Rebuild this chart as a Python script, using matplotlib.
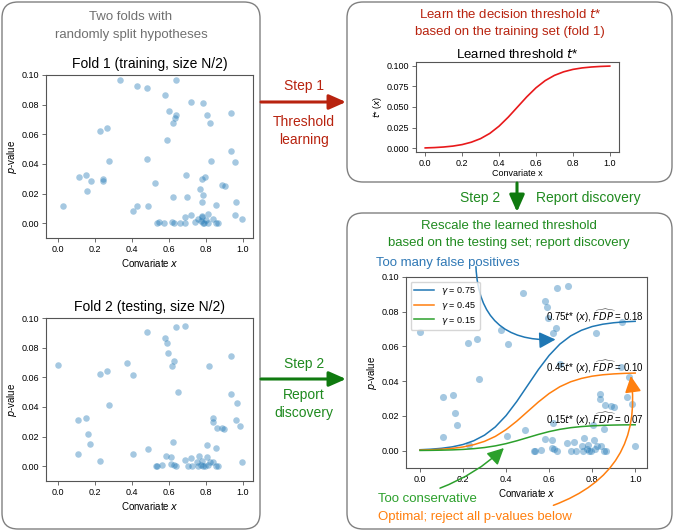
import matplotlib.pyplot as plt
from matplotlib.patches import FancyBboxPatch, FancyArrowPatch
import numpy as np

plt.rcParams['font.family'] = ['Liberation Sans', 'DejaVu Sans']
plt.rcParams['mathtext.fontset'] = 'dejavusans'

# fold 1 (training) p-values vs covariate
fold1_x = [0.335, 0.426, 0.480, 0.640, 0.580, 0.717, 0.783, 0.598, 0.638, 0.632,
           0.808, 0.938, 0.620, 0.821, 0.225, 0.263, 0.592, 0.935, 0.955, 0.275,
           0.480, 0.830, 0.114, 0.154, 0.176, 0.243, 0.243, 0.159, 0.694, 0.779,
           0.797, 0.525, 0.888, 0.902, 0.770, 0.784, 0.620, 0.699, 0.781, 0.857,
           0.964, 0.027, 0.429, 0.489, 0.406, 0.955, 0.998,
           0.534, 0.547, 0.576, 0.618, 0.629, 0.658, 0.685, 0.685, 0.717, 0.739,
           0.755, 0.775, 0.781, 0.783, 0.790, 0.800, 0.810, 0.810, 0.840, 0.855,
           0.864, 0.780]
fold1_p = [0.0966, 0.0926, 0.0910, 0.0966, 0.0865, 0.0820, 0.0813, 0.0760, 0.0730, 0.0710,
           0.0727, 0.0745, 0.0676, 0.0678, 0.0624, 0.0642, 0.0559, 0.0486, 0.0410, 0.0417,
           0.0430, 0.0420, 0.0309, 0.0322, 0.0288, 0.0300, 0.0282, 0.0216, 0.0324, 0.0297,
           0.0309, 0.0268, 0.0259, 0.0252, 0.0232, 0.0189, 0.0176, 0.0176, 0.0140, 0.0124,
           0.0146, 0.0115, 0.0117, 0.0119, 0.0083, 0.0056, 0.0025,
           0.0000, 0.0010, 0.0000, 0.0010, 0.0000, 0.0000, 0.0000, 0.0045, 0.0052, 0.0005,
           0.0025, 0.0016, 0.0047, 0.0000, 0.0000, 0.0020, 0.0000, 0.0060, 0.0030, 0.0000,
           0.0000, 0.0040]

# fold 2 (testing)
fold2_x = [0.000, 0.109, 0.154, 0.161, 0.174, 0.109, 0.226, 0.225, 0.263, 0.275,
           0.375, 0.408, 0.406, 0.480, 0.489, 0.580, 0.589, 0.636, 0.687, 0.596,
           0.630, 0.618, 0.819, 0.937, 0.649, 0.935, 0.971, 0.837, 0.837, 0.861,
           0.888, 0.900, 0.962, 0.987, 0.620, 0.804, 0.853, 0.583, 0.614, 0.763,
           0.808, 0.685, 0.717, 0.779, 0.839, 0.998, 0.614,
           0.531, 0.534, 0.562, 0.625, 0.636, 0.701, 0.723, 0.752, 0.759, 0.774,
           0.784, 0.793, 0.812, 0.824, 0.857, 0.864]
fold2_p = [0.0685, 0.0309, 0.0322, 0.0214, 0.0149, 0.0079, 0.0032, 0.0622, 0.0642, 0.0414,
           0.0694, 0.0615, 0.0083, 0.0908, 0.0117, 0.0863, 0.0829, 0.0937, 0.0948, 0.0761,
           0.0709, 0.0676, 0.0676, 0.0743, 0.0498, 0.0484, 0.0426, 0.0324, 0.0295, 0.0261,
           0.0257, 0.0252, 0.0309, 0.0270, 0.0162, 0.0146, 0.0124, 0.0068, 0.0063, 0.0070,
           0.0061, 0.0043, 0.0052, 0.0034, 0.0029, 0.0025, 0.0014,
           0.0000, 0.0000, 0.0005, 0.0009, 0.0000, 0.0000, 0.0000, 0.0027, 0.0000, 0.0007,
           0.0000, 0.0000, 0.0009, 0.0027, 0.0000, 0.0000]

# learned threshold t*(x)
t_x = [0.00, 0.05, 0.10, 0.15, 0.20, 0.25, 0.30, 0.35, 0.40, 0.45, 0.50,
       0.55, 0.60, 0.65, 0.70, 0.75, 0.80, 0.85, 0.90, 0.95, 1.00]
t_star = [0.0007, 0.0011, 0.0018, 0.0029, 0.0047, 0.0076, 0.0119, 0.0182, 0.0269, 0.0378, 0.0500,
          0.0622, 0.0731, 0.0818, 0.0881, 0.0924, 0.0953, 0.0971, 0.0982, 0.0989, 0.0993]

gammas = [0.75, 0.45, 0.15]
fdp_hat = ['0.18', '0.10', '0.07']
gamma_colors = ['#1f77b4', '#ff7f0e', '#2ca02c']

RED = '#b8230f'
GREEN = '#1f8a1f'
GREY = '#707070'
W, H = 675, 532

fig = plt.figure(figsize=(W / 100, H / 100), dpi=100)


def ftext(x, y, s, **kw):
    # position in pixels from top-left
    fig.text(x / W, 1 - y / H, s, ha=kw.pop('ha', 'center'), va=kw.pop('va', 'center'), **kw)


def add_axes(l, t, r, b):
    return fig.add_axes([l / W, 1 - b / H, (r - l) / W, (b - t) / H])


def style(ax):
    for s in ax.spines.values():
        s.set_color('#555555')
        s.set_linewidth(0.8)
    ax.tick_params(labelsize=6.5, length=3, width=0.6, color='#555555', pad=2)


# boxes
for x0, y0, x1, y1 in [(2, 2, 260, 529), (347, 2, 672, 182), (347, 213, 672, 529)]:
    fig.patches.append(FancyBboxPatch((x0 / 100, (H - y1) / 100), (x1 - x0) / 100, (y1 - y0) / 100,
                                      boxstyle='round,pad=0,rounding_size=0.16',
                                      transform=fig.dpi_scale_trans, fc='none',
                                      ec='#808080', lw=1.0))

ftext(131, 17, 'Two folds with', color=GREY, fontsize=9.5)
ftext(131, 35, 'randomly split hypotheses', color=GREY, fontsize=9.5)

# fold panels
for (top, bot), xs, ps, title in [((75, 238), fold1_x, fold1_p, 'Fold 1 (training, size N/2)'),
                                  ((318, 481), fold2_x, fold2_p, 'Fold 2 (testing, size N/2)')]:
    ax = add_axes(46, top, 253, bot)
    ax.scatter(xs, ps, s=22, color='#1f77b4', alpha=0.4, linewidths=0)
    ax.set_xlim(-0.065, 1.055)
    ax.set_ylim(-0.01, 0.10)
    ax.set_xticks([0, 0.2, 0.4, 0.6, 0.8, 1.0])
    ax.set_yticks([0, 0.02, 0.04, 0.06, 0.08, 0.10])
    ax.set_yticklabels(['0.00', '0.02', '0.04', '0.06', '0.08', '0.10'])
    ax.set_title(title, fontsize=10, pad=5)
    ax.set_xlabel('Convariate $x$', fontsize=7, labelpad=2)
    ax.set_ylabel('$p$-value', fontsize=7, labelpad=2)
    style(ax)

# top right: learned threshold
ftext(510, 15, 'Learn the decision threshold $t$*', color=RED, fontsize=9.5)
ftext(510, 32, 'based on the training set (fold 1)', color=RED, fontsize=9.5)
ax_t = add_axes(416, 62, 619, 152)
ax_t.plot(t_x, t_star, color='#e8191b', lw=1.2)
ax_t.set_xticks([0, 0.2, 0.4, 0.6, 0.8, 1.0])
ax_t.set_yticks([0, 0.025, 0.05, 0.075, 0.1])
ax_t.set_yticklabels(['0.000', '0.025', '0.050', '0.075', '0.100'])
ax_t.set_title('Learned threshold $t$*', fontsize=9.5, pad=3)
ax_t.set_xlabel('Convariate x', fontsize=6.5, labelpad=1)
ax_t.set_ylabel('$t$* ($x$)', fontsize=6.5, labelpad=2)
style(ax_t)

# bottom right: rescaled thresholds on testing fold
ftext(509, 226, 'Rescale the learned threshold', color=GREEN, fontsize=9.5)
ftext(509, 243, 'based on the testing set; report discovery', color=GREEN, fontsize=9.5)
ftext(376, 263, 'Too many false positives', color='#2f78b5', fontsize=9.5, ha='left')
ftext(378, 499, 'Too conservative', color='#2ca02c', fontsize=9.5, ha='left')
ftext(378, 517, 'Optimal; reject all p-values below', color='#ff7f0e', fontsize=9.5, ha='left')

ax_r = add_axes(406, 277, 647, 468)
ax_r.scatter(fold2_x, fold2_p, s=26, color='#1f77b4', alpha=0.4, linewidths=0)
t_arr = np.array(t_star)
for g, fdp, c in zip(gammas, fdp_hat, gamma_colors):
    ax_r.plot(t_x, g * t_arr, color=c, lw=1.1, label=r'$\gamma$ = %.2f' % g)
    ax_r.text(0.585, g * t_arr[-1] + 0.003, r'%.2f$t$* ($x$), $\widehat{FDP}$ = %s' % (g, fdp),
              fontsize=7, ha='left', va='center')
ax_r.set_xlim(-0.065, 1.055)
ax_r.set_ylim(-0.01, 0.10)
ax_r.set_xticks([0, 0.2, 0.4, 0.6, 0.8, 1.0])
ax_r.set_yticks([0, 0.02, 0.04, 0.06, 0.08, 0.10])
ax_r.set_yticklabels(['0.00', '0.02', '0.04', '0.06', '0.08', '0.10'])
ax_r.set_xlabel('Convariate $x$', fontsize=7, labelpad=2)
ax_r.set_ylabel('$p$-value', fontsize=7, labelpad=2)
ax_r.legend(loc='upper left', fontsize=6.5, handlelength=2.2, borderpad=0.4,
            labelspacing=0.3, frameon=True)
style(ax_r)

# curved pointer arrows
head = '-|>,head_length=1.0,head_width=0.5'
ax_r.annotate('', xy=(0.63, 0.064), xytext=(0.26, 0.106), annotation_clip=False,
              arrowprops=dict(arrowstyle=head, color='#1f77b4',
                              lw=1.1, connectionstyle='arc3,rad=0.5', shrinkA=0, shrinkB=0))
ax_r.annotate('', xy=(0.39, 0.0015), xytext=(0.093, -0.0216), annotation_clip=False,
              arrowprops=dict(arrowstyle=head, color='#2ca02c',
                              lw=1.1, connectionstyle='arc3,rad=0.1', shrinkA=0, shrinkB=0))
ax_r.annotate('', xy=(0.98, 0.043), xytext=(0.62, -0.0315), annotation_clip=False,
              arrowprops=dict(arrowstyle=head, color='#ff7f0e',
                              lw=1.1, connectionstyle='arc3,rad=0.4', shrinkA=0, shrinkB=0))


# big step arrows between boxes
def step_arrow(x0, y0, x1, y1, color):
    fig.patches.append(FancyArrowPatch(
        (x0 / W, 1 - y0 / H), (x1 / W, 1 - y1 / H), transform=fig.transFigure,
        arrowstyle='-|>,head_length=3.4,head_width=1.5', color=color, lw=2.2,
        shrinkA=0, shrinkB=0, mutation_scale=3))


step_arrow(261, 102, 346, 102, RED)
ftext(304, 86, 'Step 1', color=RED, fontsize=10)
ftext(304, 122, 'Threshold', color=RED, fontsize=10)
ftext(304, 140, 'learning', color=RED, fontsize=10)

step_arrow(261, 379, 346, 379, '#0f7a0f')
ftext(304, 364, 'Step 2', color=GREEN, fontsize=10)
ftext(304, 395, 'Report', color=GREEN, fontsize=10)
ftext(304, 413, 'discovery', color=GREEN, fontsize=10)

step_arrow(517, 183, 517, 212, '#0f7a0f')
ftext(480, 198, 'Step 2', color=GREEN, fontsize=10)
ftext(588, 198, 'Report discovery', color=GREEN, fontsize=10)

fig.savefig('out.png', dpi=100)
